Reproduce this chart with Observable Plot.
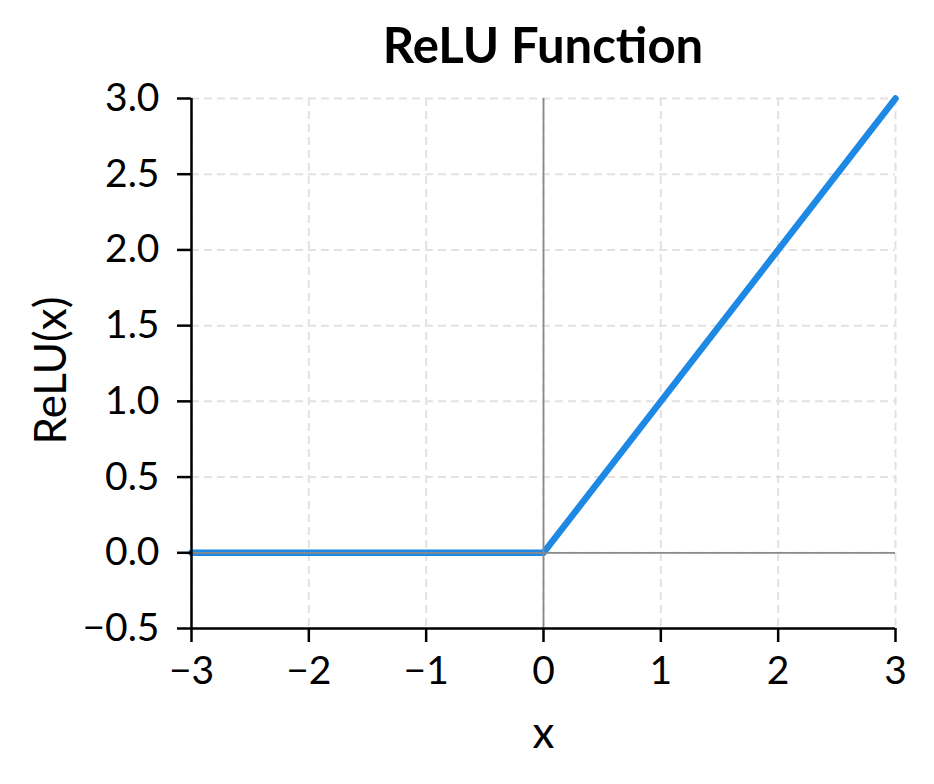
<!DOCTYPE html>
<html><head><meta charset="utf-8">
<script src="https://cdn.jsdelivr.net/npm/d3@7"></script>
<script src="https://cdn.jsdelivr.net/npm/@observablehq/plot@0.6"></script>
<style>
body{margin:0;background:#fff;font-family:"Liberation Sans Narrow",Lato,sans-serif;}
#title{height:80px;box-sizing:border-box;padding-top:8px;padding-left:191px;padding-right:39px;text-align:center;font-weight:bold;font-size:49px;line-height:72px;color:#000;white-space:nowrap;}
</style></head>
<body>
<div id="title">ReLU Function</div>
<div id="chart"></div>
<script>
const xPts = [-3, 0, 3];
const yPts = [0, 0, 3];
const xTicks = [-3, -2, -1, 0, 1, 2, 3];
const yTicks = [-0.5, 0, 0.5, 1, 1.5, 2, 2.5, 3];
const xLabel = "x";
const yLabel = "ReLU(x)";

const data = xPts.map((x, i) => ({x, y: yPts[i]}));
const FONT = "'Liberation Sans Narrow', Lato, sans-serif";

const chart = Plot.plot({
  width: 934,
  height: 704,
  marginLeft: 191,
  marginRight: 39,
  marginTop: 18,
  marginBottom: 156,
  style: {fontFamily: FONT, fontSize: "39px", color: "#000", background: "#fff", overflow: "visible"},
  x: {domain: [-3, 3], ticks: xTicks},
  y: {domain: [-0.5, 3], ticks: yTicks},
  marks: [
    Plot.ruleX(xTicks, {stroke: "#e2e2e2", strokeWidth: 2, strokeDasharray: "8,5"}),
    Plot.ruleY(yTicks, {stroke: "#e2e2e2", strokeWidth: 2, strokeDasharray: "8,5"}),
    Plot.line(data, {x: "x", y: "y", stroke: "#1E88E5", strokeWidth: 6.5}),
    Plot.ruleX([0], {stroke: "#8a8a8a", strokeWidth: 1.8}),
    Plot.ruleY([0], {stroke: "#8a8a8a", strokeWidth: 1.8}),
    Plot.axisX({ticks: xTicks, tickSize: 14, tickPadding: 14, tickFormat: d3.format("d"), strokeWidth: 2.5, fontSize: 39, label: null}),
    Plot.axisY({ticks: yTicks, tickSize: 14, tickPadding: 18, tickFormat: d3.format(".1f"), strokeWidth: 2.5, fontSize: 39, label: null}),
    Plot.ruleY([-0.5], {stroke: "#000", strokeWidth: 2.5}),
    Plot.ruleX([-3], {stroke: "#000", strokeWidth: 2.5}),
    Plot.text([xLabel], {frameAnchor: "bottom", lineAnchor: "middle", dy: 105, fontSize: 44, text: d => d}),
    Plot.text([yLabel], {frameAnchor: "left", textAnchor: "middle", lineAnchor: "middle", dx: -140, dy: 7, rotate: -90, fontSize: 44, text: d => d})
  ]
});
document.getElementById("chart").appendChild(chart);
</script>
</body></html>
